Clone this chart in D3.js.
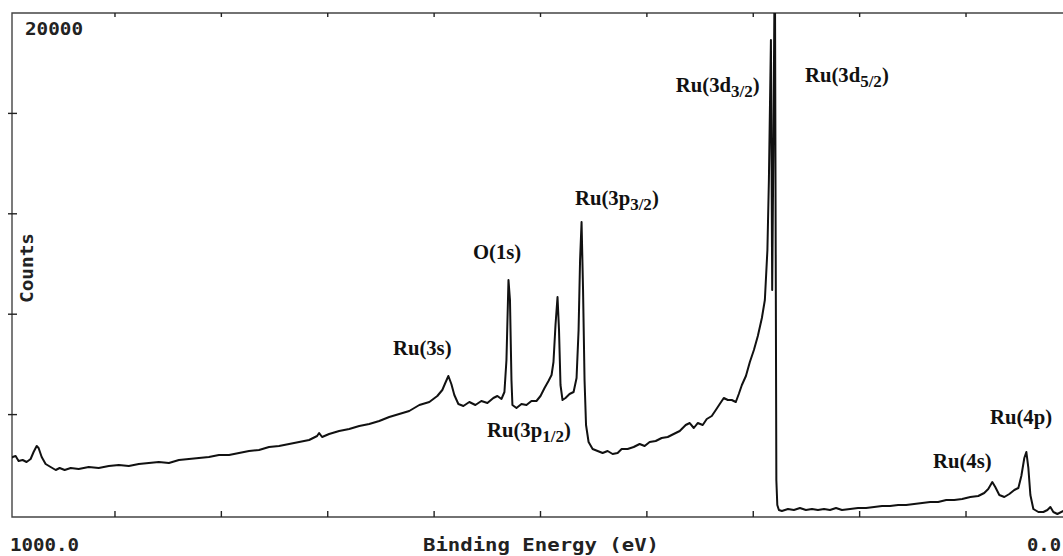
<!DOCTYPE html>
<html>
<head>
<meta charset="utf-8">
<script src="https://cdn.jsdelivr.net/npm/d3@7/dist/d3.min.js"></script>
<style>
  html, body { margin: 0; padding: 0; background: #fff; overflow: hidden; }
</style>
</head>
<body>
<div class="xps-chart"></div>
<script>
// binding energy (eV) and counts
const energy = [1000,996.2,993.4,990.6,986.8,983.1,979.3,976.5,973.6,971.8,968.9,965.2,960.5,955.7,952.0,947.3,941.6,934.1,924.7,915.3,
  905.8,896.4,887.0,877.6,868.2,858.8,849.3,839.9,830.5,821.1,811.7,802.3,792.8,783.4,774.0,764.6,755.2,745.8,736.3,726.9,
  717.5,710.0,708.1,705.3,698.7,689.3,679.8,670.4,661.0,651.6,642.2,632.8,623.4,613.9,604.5,597.0,592.3,589.5,586.6,583.8,
  581.0,577.2,572.5,566.9,561.2,555.6,549.9,544.3,540.5,536.7,533.9,532.0,530.1,528.7,527.3,526.4,522.6,517.9,513.2,508.5,
  503.8,500.0,496.2,492.5,489.6,487.8,485.9,484.0,482.6,481.2,479.3,476.5,472.7,468.9,466.1,464.2,462.8,461.4,460.0,458.6,
  457.2,454.8,451.0,446.3,441.6,436.9,432.2,427.5,423.7,418.1,412.4,406.8,402.1,397.4,391.7,386.1,380.4,374.8,369.1,363.5,
  359.7,355.9,352.2,347.5,343.7,339.0,335.2,331.5,327.7,323.9,320.2,316.4,313.6,310.7,306.9,303.2,299.4,295.7,291.9,289.1,
  286.7,285.3,283.4,282.2,281.1,279.7,278.3,277.4,275.9,273.1,267.4,261.8,256.1,250.5,244.8,239.2,233.5,227.9,222.2,216.6,
  209.0,201.5,194.0,186.4,178.9,171.4,163.8,156.3,148.8,141.2,133.7,126.2,118.6,111.1,103.6,96.0,88.5,82.9,79.1,75.3,
  72.5,68.7,64.0,59.3,54.6,50.8,48.0,45.2,43.3,41.4,39.5,36.7,32.0,27.3,23.5,20.7,17.9,14.1,8.5];

const counts = [2191,2311,2351,2151,2191,2112,2231,2510,2749,2669,2311,2032,1912,1793,1873,1793,1873,1833,1912,1873,
  1952,1992,1952,2032,2072,2112,2072,2191,2231,2271,2311,2390,2390,2470,2550,2590,2709,2749,2829,2908,
  2988,3147,3267,3108,3227,3347,3426,3546,3625,3745,3904,4024,4143,4382,4502,4741,4980,5259,5538,5219,
  4781,4422,4343,4502,4382,4542,4462,4661,4741,4622,4900,6175,9362,8566,5378,4382,4263,4422,4382,4542,
  4542,4741,5060,5339,5578,6096,7570,8685,7370,5179,4582,4661,4821,4900,5458,7370,10159,11673,8964,5378,
  3586,2908,2629,2550,2470,2550,2430,2470,2629,2629,2709,2829,2749,2908,2948,3068,3108,3227,3347,3586,
  3665,3466,3665,3586,3825,3944,4183,4422,4661,4582,4582,4502,4821,5179,5538,6096,6574,7131,7848,8566,
  10558,13346,18924,8964,14542,22908,1394,398,199,159,239,199,279,199,239,199,239,199,279,199,
  239,279,279,319,359,359,398,398,438,478,518,518,598,598,637,717,757,876,1036,1315,
  1116,797,717,837,996,1076,1554,2271,2510,1873,797,239,120,120,199,319,120,40,159];

// peak annotations: label parts and the (energy, counts) spot where each label starts
const peakMain   = ['Ru(3s)', 'O(1s)', 'Ru(3p', 'Ru(3p', 'Ru(3d', 'Ru(3d', 'Ru(4s)', 'Ru(4p)'];
const peakSub    = ['', '', '1/2', '3/2', '3/2', '5/2', '', ''];
const peakTail   = ['', '', ')', ')', ')', ')', '', ''];
const peakEnergy = [638.7, 563.5, 550.3, 467.6, 372.8, 251.4, 131.0, 77.5];
const peakCounts = [6374, 10199, 3108, 12350, 16852, 17251, 1872, 3625];

// axis ticks and labels
const xTicks = [900, 800, 700, 600, 500, 400, 300, 200, 100];
const yTicks = [4000, 8000, 12000, 16000];
const xEndLabels = ['1000.0', '0.0'];
const yTopLabel = '20000';
const xTitle = 'Binding Energy  (eV)';
const yTitle = 'Counts';

(() => {
    const width = 1063, height = 556;
    const monoFont = "'DejaVu Sans Mono', monospace";
    const serifFont = "'Liberation Serif', 'Times New Roman', serif";

    const svg = d3.select('.xps-chart')
        .append('svg')
        .attr('width', width)
        .attr('height', height);

    const x = d3.scaleLinear().domain([1000, 0]).range([8.6, 1072.4]);
    const y = d3.scaleLinear().domain([0, 20000]).range([515, 13]);

    const frameL = 12, frameT = 13, frameB = 517, frameR = x(0);

    svg.append('clipPath').attr('id', 'plot-clip')
        .append('rect')
        .attr('x', frameL).attr('y', frameT)
        .attr('width', frameR - frameL).attr('height', frameB - frameT);

    // frame
    svg.append('path')
        .attr('d', `M${frameL},${frameB}V${frameT}H${frameR}V${frameB}Z`)
        .attr('fill', 'none')
        .attr('stroke', '#444')
        .attr('stroke-width', 1.4);

    // ticks, pointing into the plot
    svg.selectAll('.tick-bottom')
        .data(xTicks)
        .enter().append('line')
        .attr('class', 'tick-bottom')
        .attr('x1', d => x(d)).attr('x2', d => x(d))
        .attr('y1', frameB).attr('y2', frameB - 6)
        .attr('stroke', '#222').attr('stroke-width', 1.4);

    svg.selectAll('.tick-top')
        .data(xTicks)
        .enter().append('line')
        .attr('class', 'tick-top')
        .attr('x1', d => x(d)).attr('x2', d => x(d))
        .attr('y1', frameT).attr('y2', frameT + 4)
        .attr('stroke', '#222').attr('stroke-width', 1.4);

    svg.selectAll('.tick-left')
        .data(yTicks)
        .enter().append('line')
        .attr('class', 'tick-left')
        .attr('x1', frameL - 4).attr('x2', frameL + 5)
        .attr('y1', d => y(d)).attr('y2', d => y(d))
        .attr('stroke', '#222').attr('stroke-width', 1.4);

    // spectrum
    const line = d3.line()
        .x(i => x(energy[i]))
        .y(i => y(counts[i]));

    svg.append('path')
        .datum(d3.range(energy.length))
        .attr('clip-path', 'url(#plot-clip)')
        .attr('d', line)
        .attr('fill', 'none')
        .attr('stroke', '#111')
        .attr('stroke-width', 2)
        .attr('stroke-linejoin', 'round');

    // axis texts in the plotter font
    const mono = (txt, px, py, len) => svg.append('text')
        .attr('x', px).attr('y', py)
        .attr('textLength', len)
        .attr('lengthAdjust', 'spacingAndGlyphs')
        .attr('font-family', monoFont)
        .attr('font-weight', 'bold')
        .attr('font-size', 17)
        .attr('fill', '#222')
        .text(txt);

    mono(yTopLabel, 25, 35, 58);
    mono(xEndLabels[0], 10, 551, 69);
    mono(xEndLabels[1], 1027, 551, 34);
    mono(xTitle, 423, 551, 236);

    svg.append('text')
        .attr('transform', 'translate(33,303) rotate(-90)')
        .attr('textLength', 70)
        .attr('lengthAdjust', 'spacingAndGlyphs')
        .attr('font-family', monoFont)
        .attr('font-weight', 'bold')
        .attr('font-size', 17)
        .attr('fill', '#222')
        .text(yTitle);

    // peak labels
    peakMain.forEach((name, i) => {
        const t = svg.append('text')
            .attr('x', x(peakEnergy[i]))
            .attr('y', y(peakCounts[i]))
            .attr('font-family', serifFont)
            .attr('font-weight', 'bold')
            .attr('font-size', 20.7)
            .attr('fill', '#111');
        t.append('tspan').text(name);
        if (peakSub[i]) {
            t.append('tspan').attr('dy', 5).attr('font-size', 17).text(peakSub[i]);
            t.append('tspan').attr('dy', -5).text(peakTail[i]);
        }
    });
})();
</script>
</body>
</html>
